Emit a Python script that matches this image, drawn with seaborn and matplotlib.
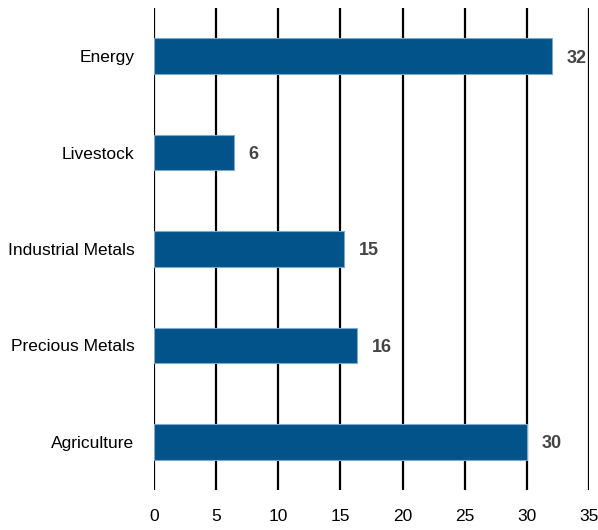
import matplotlib
matplotlib.use("Agg")
import matplotlib.pyplot as plt
import seaborn as sns
import pandas as pd

# data
categories = ["Energy", "Livestock", "Industrial Metals", "Precious Metals", "Agriculture"]
values = [32.0, 6.4, 15.3, 16.3, 30.0]
labels = ["32", "6", "15", "16", "30"]
xticks = [0, 5, 10, 15, 20, 25, 30, 35]

sns.set_style("white")
plt.rcParams["font.family"] = ["Liberation Sans", "DejaVu Sans"]

df = pd.DataFrame({"cat": categories, "val": values})

fig = plt.figure(figsize=(5.98, 5.30), dpi=100)
ax = fig.add_axes([0.2575, 0.0755, 0.7275, 0.9095])

for x in xticks:
    ax.axvline(x, color="black", lw=1.6, zorder=0)

sns.barplot(data=df, x="val", y="cat", color="#02538A", width=0.37,
            edgecolor="#7FA9C8", linewidth=0.8, saturation=1, ax=ax, zorder=2)

for i, (v, lab) in enumerate(zip(values, labels)):
    ax.text(v + 1.2, i + 0.02, lab, va="center", ha="left", fontsize=13,
            fontweight="bold", color="#444444")

ax.set_xlim(0, 35)
ax.set_xticks(xticks)
ax.set_xlabel("")
ax.set_ylabel("")
ax.tick_params(axis="both", length=0, labelsize=12.5, labelcolor="black")
ax.tick_params(axis="x", pad=14)
ax.tick_params(axis="y", pad=14)
for s in ax.spines.values():
    s.set_visible(False)

fig.savefig("out.png", dpi=100)
